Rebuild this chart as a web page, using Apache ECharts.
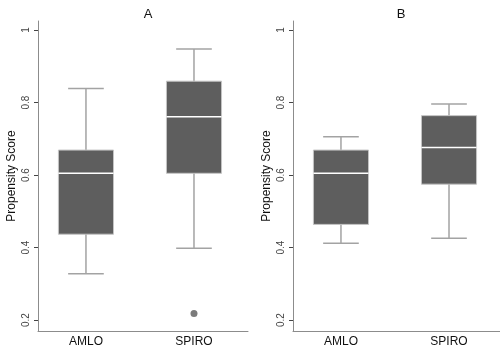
<!DOCTYPE html>
<html>
<head>
<meta charset="utf-8">
<script src="https://cdn.jsdelivr.net/npm/echarts@6/dist/echarts.min.js"></script>
<style>
  html, body { margin: 0; padding: 0; background: #fff; }
  #chart { width: 500px; height: 350px; }
</style>
</head>
<body>
<div id="chart"></div>
<script>
// box plot stats
const categories = ["AMLO", "SPIRO"];
const yTicks = [0.2, 0.4, 0.6, 0.8, 1];

// panel A
const minA = [0.328, 0.398];
const q1A = [0.437, 0.605];
const medA = [0.605, 0.761];
const q3A = [0.669, 0.859];
const maxA = [0.839, 0.948];
const outliersA = [[1, 0.218]];

// panel B
const minB = [0.412, 0.426];
const q1B = [0.464, 0.575];
const medB = [0.605, 0.676];
const q3B = [0.669, 0.764];
const maxB = [0.706, 0.796];

const font = "'Liberation Sans', Arial, Helvetica, sans-serif";

function toRows(mins, q1s, meds, q3s, maxs) {
  return categories.map((c, i) => [i, mins[i], q1s[i], meds[i], q3s[i], maxs[i]]);
}

function renderBox(params, api) {
  let x = api.value(0);
  let lo = api.coord([x, api.value(1)]);
  let q1 = api.coord([x, api.value(2)]);
  let med = api.coord([x, api.value(3)]);
  let q3 = api.coord([x, api.value(4)]);
  let hi = api.coord([x, api.value(5)]);
  let unit = api.size([1, 0])[0];
  let bw = unit * 0.51;
  let cw = unit * 0.33;
  let cx = lo[0];
  let whisker = { stroke: "#a3a3a3", lineWidth: 1.5 };
  return {
    type: "group",
    children: [
      { type: "line", shape: { x1: cx, y1: lo[1], x2: cx, y2: hi[1] }, style: whisker },
      { type: "line", shape: { x1: cx - cw / 2, y1: lo[1], x2: cx + cw / 2, y2: lo[1] }, style: whisker },
      { type: "line", shape: { x1: cx - cw / 2, y1: hi[1], x2: cx + cw / 2, y2: hi[1] }, style: whisker },
      {
        type: "rect",
        shape: { x: cx - bw / 2, y: q3[1], width: bw, height: q1[1] - q3[1] },
        style: { fill: "#5e5e5e", stroke: "#c4c4c4", lineWidth: 1 }
      },
      { type: "line", shape: { x1: cx - bw / 2, y1: med[1], x2: cx + bw / 2, y2: med[1] }, style: { stroke: "#ffffff", lineWidth: 1.5 } }
    ]
  };
}

function makeX(gridIndex, max) {
  return {
    type: "value",
    gridIndex: gridIndex,
    min: -0.444,
    max: max,
    splitLine: { show: false },
    axisTick: { show: false },
    axisLine: { show: true, onZero: false, lineStyle: { color: "#8c8c8c", width: 1 } },
    axisLabel: {
      customValues: [0, 1],
      formatter: v => categories[Math.round(v)],
      color: "#111",
      fontSize: 12,
      fontFamily: font,
      margin: 5
    }
  };
}

function makeY(gridIndex) {
  return {
    type: "value",
    gridIndex: gridIndex,
    min: 0.17,
    max: 1.025,
    name: "Propensity Score",
    nameLocation: "middle",
    nameRotate: 90,
    nameGap: 20,
    nameTextStyle: { color: "#111", fontSize: 12, fontFamily: font },
    splitLine: { show: false },
    axisLine: { show: true, onZero: false, lineStyle: { color: "#8c8c8c", width: 1 } },
    axisTick: { show: true, length: 4, customValues: yTicks, lineStyle: { color: "#444" } },
    axisLabel: {
      customValues: yTicks,
      rotate: 90,
      color: "#444",
      fontSize: 10,
      fontFamily: font,
      margin: 7
    }
  };
}

let chart = echarts.init(document.getElementById("chart"));

let option = {
  animation: false,
  backgroundColor: "#fff",
  title: [
    { text: "A", left: 143, top: 3, textAlign: "center", textStyle: { fontSize: 13, fontWeight: "normal", color: "#111", fontFamily: font } },
    { text: "B", left: 396, top: 3, textAlign: "center", textStyle: { fontSize: 13, fontWeight: "normal", color: "#111", fontFamily: font } }
  ],
  grid: [
    { left: 38, top: 21, width: 210, height: 310 },
    { left: 293, top: 21, width: 207, height: 310 }
  ],
  xAxis: [makeX(0, 1.5), makeX(1, 1.472)],
  yAxis: [makeY(0), makeY(1)],
  series: [
    {
      type: "custom",
      xAxisIndex: 0,
      yAxisIndex: 0,
      renderItem: renderBox,
      encode: { x: 0, y: [1, 2, 3, 4, 5] },
      data: toRows(minA, q1A, medA, q3A, maxA)
    },
    {
      type: "scatter",
      xAxisIndex: 0,
      yAxisIndex: 0,
      symbolSize: 7,
      itemStyle: { color: "#5a5a5a" },
      data: outliersA
    },
    {
      type: "custom",
      xAxisIndex: 1,
      yAxisIndex: 1,
      renderItem: renderBox,
      encode: { x: 0, y: [1, 2, 3, 4, 5] },
      data: toRows(minB, q1B, medB, q3B, maxB)
    }
  ]
};

chart.setOption(option);
</script>
</body>
</html>
